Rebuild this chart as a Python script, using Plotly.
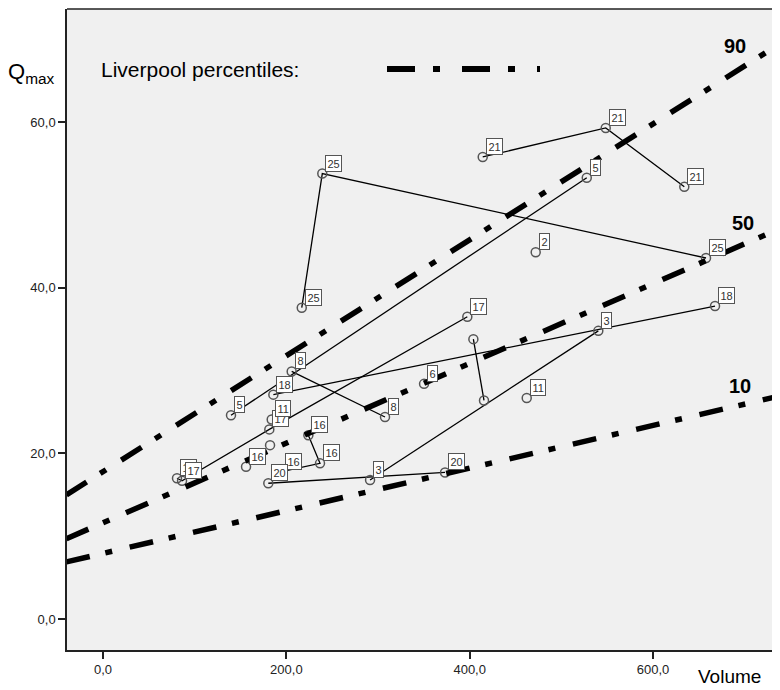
import plotly.graph_objects as go

# ---------------- data ----------------
# patient measurements (path order within each id)
point_id = ["21", "21", "21",
            "25", "25", "25",
            "5", "5",
            "2",
            "17", "17", "17", "17",
            "18", "18",
            "11a", "11b",
            "16", "16", "16",
            "20", "20",
            "3", "3",
            "u1", "u1",
            "8", "8",
            "6",
            "16b",
            "u2"]
point_volume = [414.2, 548.4, 634.1,
                216.8, 239.2, 657.8,
                139.6, 527.7,
                472.0,
                80.7, 86.2, 181.4, 397.4,
                185.8, 667.6,
                184.0, 462.2,
                224.0, 236.7, 194.9,
                180.3, 373.1,
                291.3, 540.3,
                404.0, 415.6,
                205.8, 307.6,
                350.2,
                156.0,
                182.2]
point_qmax = [55.8, 59.3, 52.2,
              37.6, 53.8, 43.6,
              24.6, 53.3,
              44.3,
              17.0, 16.7, 22.9, 36.5,
              27.1, 37.8,
              24.1, 26.7,
              22.2, 18.8, 17.8,
              16.4, 17.7,
              16.8, 34.8,
              33.8, 26.4,
              29.9, 24.4,
              28.4,
              18.4,
              21.0]
point_label = ["21", "21", "21",
               "25", "25", "25",
               "5", "5",
               "2",
               "17", "17", "17", "17",
               "18", "18",
               "11", "11",
               "16", "16", "16",
               "20", "20",
               "3", "3",
               "", "",
               "8", "8",
               "6",
               "16",
               ""]

# Liverpool percentile lines (straight lines, end points)
pct_volume = [-40, 760]
pct_90 = [15.0, 71.0]
pct_50 = [9.7, 48.2]
pct_10 = [6.9, 27.5]
pct_names = ["90", "50", "10"]
pct_label_volume = [689.4, 698.2, 694.9]
pct_label_qmax = [69.2, 47.8, 28.1]

x_tick_vals = [0, 200, 400, 600]
x_tick_text = ["0,0", "200,0", "400,0", "600,0"]
y_tick_vals = [0, 20, 40, 60]
y_tick_text = ["0,0", "20,0", "40,0", "60,0"]

# ---------------- style ----------------
FONT = "Liberation Sans, Arial, Helvetica, sans-serif"
OFF = 8                       # default page margin of the html body
W, H = 772, 682
ML, MR, MT, MB = 59, 0, 1, 40
PW, PH = W - ML - MR, H - MT - MB


def px_x(px):
    """window pixel -> paper x"""
    return (px - OFF - ML) / PW


def px_y(py):
    """window pixel -> paper y"""
    return (H - MB - (py - OFF)) / PH


fig = go.Figure()

# patient paths
seen = []
for pid in point_id:
    if pid not in seen:
        seen.append(pid)
for pid in seen:
    idx = [i for i, p in enumerate(point_id) if p == pid]
    if len(idx) > 1:
        fig.add_trace(go.Scatter(
            x=[point_volume[i] for i in idx],
            y=[point_qmax[i] for i in idx],
            mode="lines", line=dict(color="black", width=1.3),
            hoverinfo="skip"))

# markers
fig.add_trace(go.Scatter(
    x=point_volume, y=point_qmax, mode="markers",
    marker=dict(symbol="circle-open", size=9, color="#555555",
                line=dict(width=1.5, color="#555555"))))

# percentile lines
DASH = "24px,16px,7px,18px"
for vals in (pct_90, pct_50, pct_10):
    fig.add_trace(go.Scatter(
        x=pct_volume, y=vals, mode="lines",
        line=dict(color="black", width=5.5, dash=DASH),
        hoverinfo="skip"))

annotations = []
# point labels
for v, q, lab in zip(point_volume, point_qmax, point_label):
    if not lab:
        continue
    annotations.append(dict(
        x=v, y=q, xref="x", yref="y", text=lab, showarrow=False,
        xanchor="left", yanchor="bottom", xshift=3, yshift=2,
        bgcolor="white", bordercolor="#555555", borderwidth=1, borderpad=1.5,
        font=dict(family=FONT, size=11, color="#333333")))

# percentile labels
for name, v, q in zip(pct_names, pct_label_volume, pct_label_qmax):
    annotations.append(dict(
        x=v, y=q, xref="x", yref="y", text="<b>" + name + "</b>",
        showarrow=False, xanchor="center", yanchor="middle",
        font=dict(family=FONT, size=20, color="black")))

# titles
annotations.append(dict(
    x=px_x(6), y=px_y(73), xref="paper", yref="paper",
    text="Q<sub>max</sub>", showarrow=False, xanchor="left", yanchor="middle",
    font=dict(family=FONT, size=22, color="black")))
annotations.append(dict(
    x=px_x(99), y=px_y(69), xref="paper", yref="paper",
    text="Liverpool percentiles:", showarrow=False, xanchor="left", yanchor="middle",
    font=dict(family=FONT, size=21, color="black")))
annotations.append(dict(
    x=px_x(696), y=px_y(676), xref="paper", yref="paper",
    text="Volume", showarrow=False, xanchor="left", yanchor="middle",
    font=dict(family=FONT, size=19, color="black")))

shapes = [
    # top frame line
    dict(type="line", xref="paper", yref="paper", x0=0, x1=1.01, y0=1, y1=1,
         line=dict(color="#222222", width=1.5)),
    # legend sample
    dict(type="line", xref="paper", yref="paper",
         x0=px_x(387), x1=px_x(540), y0=px_y(69), y1=px_y(69),
         line=dict(color="black", width=6, dash="28px,18px,7px,22px")),
]

fig.update_layout(
    width=W, height=H,
    margin=dict(l=ML, r=MR, t=MT, b=MB, pad=0),
    paper_bgcolor="white", plot_bgcolor="#f0f0f0",
    showlegend=False,
    annotations=annotations, shapes=shapes,
    xaxis=dict(range=[-39.3, 738.5], showgrid=False, zeroline=False,
               showline=True, linecolor="#222222", linewidth=1.5,
               ticks="outside", ticklen=7, tickwidth=1.5, tickcolor="#222222",
               tickvals=x_tick_vals, ticktext=x_tick_text,
               tickfont=dict(family=FONT, size=13, color="#222222")),
    yaxis=dict(range=[-3.74, 73.67], showgrid=False, zeroline=False,
               showline=True, linecolor="#222222", linewidth=1.5,
               ticks="outside", ticklen=7, tickwidth=1.5, tickcolor="#222222",
               tickvals=y_tick_vals, ticktext=y_tick_text,
               tickfont=dict(family=FONT, size=13, color="#222222")),
)

fig.write_html("out.html")
